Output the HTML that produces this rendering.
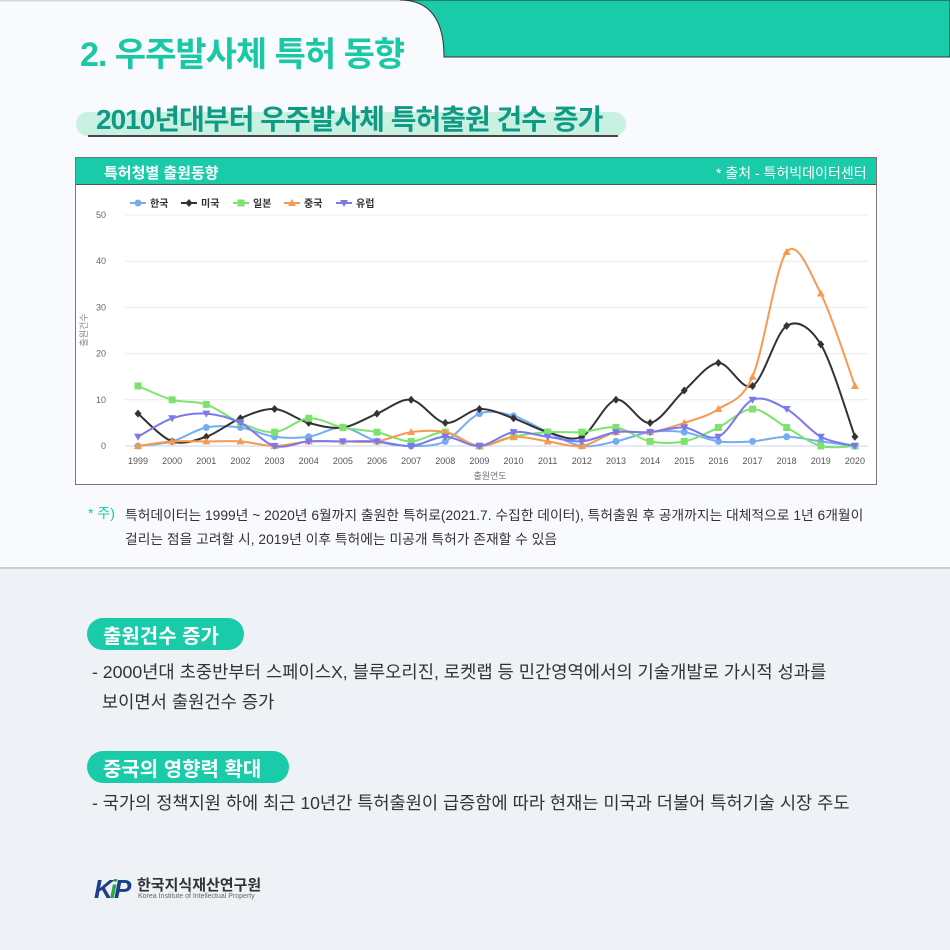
<!DOCTYPE html>
<html><head><meta charset="utf-8"><style>
body{margin:0;width:950px;height:950px;position:relative;overflow:hidden;font-family:"Liberation Sans","Noto Sans CJK KR",sans-serif;background:#eef2f6}
.top{position:absolute;left:0;top:0;width:950px;height:567px;background:#f9fafe;border-bottom:2px solid #c9ccd2}
.abs{position:absolute;white-space:nowrap}
</style></head><body>
<div class="top"></div>
<svg class="abs" style="left:0;top:0" width="950" height="70">
<line x1="0" y1="0.5" x2="400" y2="0.5" stroke="#d5d8de" stroke-width="2"/>
<path d="M400,0 C430,0 444,20 444,57 L950,57 L950,0 Z" fill="#19cba9" stroke="#333" stroke-width="1"/>
<path d="M400,-1 L950,-1 L950,0 L400,0Z" fill="#19cba9"/>
</svg>
<div class="abs" style="left:80px;top:27px;font-size:34px;font-weight:bold;color:#19c9a5;letter-spacing:-1px">2. 우주발사체 특허 동향</div>
<div class="abs" style="left:76px;top:112px;width:550px;height:24px;border-radius:12px;background:#c9f1e2"></div>
<div class="abs" style="left:88px;top:135px;width:530px;height:2px;background:#444"></div>
<div class="abs" style="left:96px;top:98px;font-size:28px;font-weight:bold;color:#0f9a86;letter-spacing:-1px">2010년대부터 우주발사체 특허출원 건수 증가</div>
<div class="abs" style="left:75px;top:157px;width:800px;height:326px;border:1px solid #777;background:#fff"></div>
<div class="abs" style="left:76px;top:158px;width:800px;height:26px;background:#19cba9;border-bottom:1px solid #555"></div>
<div class="abs" style="left:104px;top:162px;font-size:15px;font-weight:bold;color:#fff">특허청별 출원동향</div>
<div class="abs" style="left:716px;top:163px;font-size:14px;color:#fff">* 출처 - 특허빅데이터센터</div>
<svg id="ch" class="abs" style="left:0;top:0" width="950" height="500"></svg>
<div class="abs" style="left:88px;top:503px;font-size:14px;color:#19c9a5">* 주)</div>
<div class="abs" style="left:125px;top:504px;font-size:13.8px;color:#333;line-height:24px">특허데이터는 1999년 ~ 2020년 6월까지 출원한 특허로(2021.7. 수집한 데이터), 특허출원 후 공개까지는 대체적으로 1년 6개월이<br>걸리는 점을 고려할 시, 2019년 이후 특허에는 미공개 특허가 존재할 수 있음</div>
<div class="abs" style="left:87px;top:618px;width:157px;height:32px;border-radius:16px;background:#19cba9"></div>
<div class="abs" style="left:103px;top:620px;font-size:20px;font-weight:bold;color:#fff">출원건수 증가</div>
<div class="abs" style="left:92px;top:657px;font-size:17.7px;color:#333;line-height:30px">- 2000년대 초중반부터 스페이스X, 블루오리진, 로켓랩 등 민간영역에서의 기술개발로 가시적 성과를<br>&nbsp;&nbsp;보이면서 출원건수 증가</div>
<div class="abs" style="left:87px;top:751px;width:202px;height:32px;border-radius:16px;background:#19cba9"></div>
<div class="abs" style="left:103px;top:753px;font-size:20px;font-weight:bold;color:#fff">중국의 영향력 확대</div>
<div class="abs" style="left:92px;top:790px;font-size:17.6px;color:#333">- 국가의 정책지원 하에 최근 10년간 특허출원이 급증함에 따라 현재는 미국과 더불어 특허기술 시장 주도</div>
<div class="abs" style="left:94px;top:874px;font-size:26px;font-weight:bold;color:#1e3e8c;font-style:italic;letter-spacing:-3px">K<span style="color:#2aa84a">i</span>P</div>
<div class="abs" style="left:137px;top:874px;font-size:15px;font-weight:bold;color:#333">한국지식재산연구원</div>
<div class="abs" style="left:138px;top:893px;font-size:7px;color:#666">Korea Institute of Intellectual Property</div>
<script>
const s=document.getElementById('ch');let h='';
const X=i=>138+i*34.14,Y=v=>446-v*4.62;
for(let v=0;v<=50;v+=10){h+=`<line x1="125" x2="868" y1="${Y(v)}" y2="${Y(v)}" stroke="${v?'#ececec':'#ccd0e8'}"/><text x="106" y="${Y(v)+3}" font-size="9" fill="#666" text-anchor="end">${v}</text>`}
for(let i=0;i<22;i++)h+=`<text x="${X(i)}" y="464" font-size="9" fill="#555" text-anchor="middle">${1999+i}</text>`;
h+=`<text x="490" y="479" font-size="9" fill="#777" text-anchor="middle">출원연도</text><text transform="translate(87,330) rotate(-90)" font-size="9" fill="#888" text-anchor="middle">출원건수</text>`;
const D=[['한국','#74aef0','c',[0,1,4,4,2,2,4,1,0,1,7,6.5,3,0,1,3,3,1,1,2,1,0]],
['미국','#333','d',[7,1,2,6,8,5,4,7,10,5,8,6,3,2,10,5,12,18,13,26,22,2]],
['일본','#7ee36e','s',[13,10,9,5,3,6,4,3,1,3,0,2,3,3,4,1,1,4,8,4,0,0]],
['중국','#f79a50','t',[0,1,1,1,0,1,1,1,3,3,0,2,1,0,3,3,5,8,15,42,33,13]],
['유럽','#7b78ee','v',[2,6,7,5,0,1,1,1,0,2,0,3,2,1,3,3,4,2,10,8,2,0]]];
function mk(t,x,y,c){if(t=='c')return`<circle cx="${x}" cy="${y}" r="3.5" fill="${c}"/>`;if(t=='s')return`<rect x="${x-3.5}" y="${y-3.5}" width="7" height="7" fill="${c}"/>`;if(t=='d')return`<path d="M${x},${y-4}L${x+3.5},${y}L${x},${y+4}L${x-3.5},${y}Z" fill="${c}"/>`;if(t=='t')return`<path d="M${x},${y-4}L${x+4},${y+3}L${x-4},${y+3}Z" fill="${c}"/>`;return`<path d="M${x},${y+4}L${x+4},${y-3}L${x-4},${y-3}Z" fill="${c}"/>`}
D.forEach(([n,c,t,a],k)=>{const p=a.map((v,i)=>[X(i),Y(v)]);let d=`M${p[0][0]},${p[0][1]}`;
for(let i=0;i<p.length-1;i++){const p0=p[i-1]||p[i],p1=p[i],p2=p[i+1],p3=p[i+2]||p2;const tt=0.16;
d+=`C${p1[0]+(p2[0]-p0[0])*tt},${p1[1]+(p2[1]-p0[1])*tt} ${p2[0]-(p3[0]-p1[0])*tt},${p2[1]-(p3[1]-p1[1])*tt} ${p2[0]},${p2[1]}`}
h+=`<path d="${d}" fill="none" stroke="${c}" stroke-width="2"/>`;p.forEach(q=>h+=mk(t,q[0],q[1],c));
const lx=[130,181,233,284,336][k];h+=`<line x1="${lx}" x2="${lx+16}" y1="203" y2="203" stroke="${c}" stroke-width="2"/>`+mk(t,lx+8,203,c)+`<text x="${lx+20}" y="207" font-size="10" fill="#333" font-weight="bold">${n}</text>`});
s.innerHTML=h;
</script>
</body></html>
